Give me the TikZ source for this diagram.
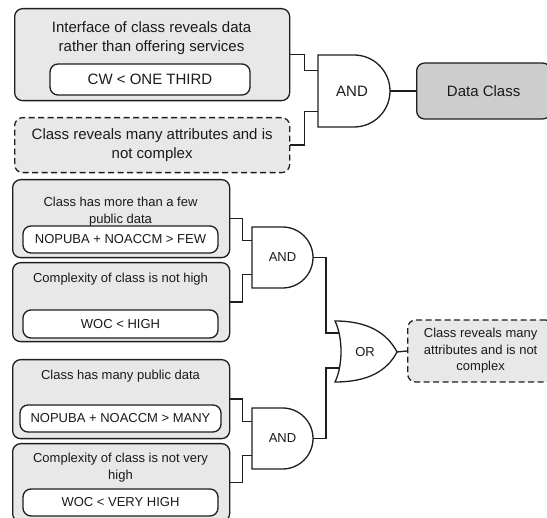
\documentclass[tikz,border=0pt]{standalone}
\usepackage{fontspec}
\setmainfont{Liberation Sans}
\definecolor{linec}{HTML}{1E1E1E}
\definecolor{textc}{HTML}{1A1A1A}
\definecolor{boxgray}{HTML}{E8E8E8}
\definecolor{darkgray}{HTML}{CDCDCD}
\begin{document}
\begin{tikzpicture}[x=1pt,y=-1pt,
  outer/.style={draw=linec, fill=boxgray, rounded corners=8pt, line width=1.3pt, anchor=north west, inner sep=0pt},
  inner/.style={draw=linec, fill=white, rounded corners=8pt, line width=1.3pt, inner sep=0pt, text=textc},
  dashbox/.style={outer, dash pattern=on 6pt off 3.5pt, align=center, text=textc},
  big/.style={font=\fontsize{15}{19.5}\selectfont},
  small/.style={font=\fontsize{13}{16.5}\selectfont},
  txt/.style={align=center, text=textc, inner sep=0pt},
  gate/.style={draw=linec, fill=white, line width=1.3pt},
  wire/.style={draw=linec, line width=1.3pt},
  pics/andgate/.style={code={
    \draw[gate] (0,-#1) -- (#1,-#1)
      .. controls (1.5523*#1,-#1) and (2*#1,-0.5523*#1) .. (2*#1,0)
      .. controls (2*#1,0.5523*#1) and (1.5523*#1,#1) .. (#1,#1)
      -- (0,#1) -- cycle;
    \coordinate (-a) at (0,-0.56*#1);
    \coordinate (-b) at (0,0.56*#1);
    \coordinate (-o) at (2*#1,0);
  }}
]
\useasboundingbox (0,0) rectangle (547,518);
\clip (0,0) rectangle (547,518);

% ---- Data Class branch ----
\node[outer, minimum width=275pt, minimum height=92pt] (b1) at (14,8) {};
\node[txt, big] (t1) at (151.5,38) {Interface of class reveals data\\rather than offering services};
\node[inner, big, minimum width=200pt, minimum height=31pt] (c1) at (150,79.5) {CW < ONE THIRD};

\node[dashbox, big, minimum width=275pt, minimum height=55pt] (b2) at (14,117) {Class reveals many attributes and is\\not complex};

\pic (g1) at (318,91) {andgate=36};
\node[txt, big] (g1l) at (352,91) {AND};

\node[outer, fill=darkgray, anchor=west, minimum width=134pt, minimum height=56pt, big, text=textc] (dc) at (416,91) {Data Class};

\draw[wire] (b1.east) -- ++(14,0) |- (g1-a);
\draw[wire] (b2.east) -- ++(14,0) |- (g1-b);
\draw[wire] (g1-o) -- (dc.west);

% ---- "reveals many attributes and is not complex" branch ----
\node[outer, minimum width=217pt, minimum height=78pt] (b3) at (12,179) {};
\node[txt, small] (t3) at (120.5,211.5) {Class has more than a few\\public data};
\node[inner, small, minimum width=195pt, minimum height=27pt] (c3) at (120.5,239.5) {NOPUBA + NOACCM > FEW};

\node[outer, minimum width=217pt, minimum height=79pt] (b4) at (12,262) {};
\node[txt, small] (t4) at (120.5,279) {Complexity of class is not high};
\node[inner, small, minimum width=195pt, minimum height=28pt] (c4) at (120.5,324) {WOC < HIGH};

\node[outer, minimum width=217pt, minimum height=79pt] (b5) at (12,359) {};
\node[txt, small] (t5) at (120.5,376) {Class has many public data};
\node[inner, small, minimum width=201pt, minimum height=27pt] (c5) at (120.5,418.5) {NOPUBA + NOACCM > MANY};

\node[outer, minimum width=217pt, minimum height=78pt] (b6) at (12,443) {};
\node[txt, small] (t6) at (120.5,467.5) {Complexity of class is not very\\high};
\node[inner, small, minimum width=195pt, minimum height=27pt] (c6) at (120.5,502.5) {WOC < VERY HIGH};

\pic (g2) at (252,257.5) {andgate=30.5};
\node[txt, small] (g2l) at (282.5,257.5) {AND};
\pic (g3) at (252,438.5) {andgate=30.5};
\node[txt, small] (g3l) at (282.5,438.5) {AND};

% OR gate
\draw[gate] (335,321) .. controls (368,321) and (387,333) .. (397,352)
  .. controls (387,371) and (368,382) .. (335,382)
  .. controls (343,366) and (343,337) .. (335,321) -- cycle;
\coordinate (or-a) at (338.5,333);
\coordinate (or-b) at (338.5,368);
\coordinate (or-o) at (397,352);
\node[txt, small] (orl) at (365,352) {OR};

\node[dashbox, small, anchor=west, minimum width=146pt, minimum height=62pt] (res) at (407,351) {Class reveals many\\attributes and is not\\complex};

\draw[wire] (b3.east) -- ++(12,0) |- (g2-a);
\draw[wire] (b4.east) -- ++(12,0) |- (g2-b);
\draw[wire] (b5.east) -- ++(12,0) |- (g3-a);
\draw[wire] (b6.east) -- ++(12,0) |- (g3-b);
\draw[wire] (g2-o) -- ++(13,0) |- (or-a);
\draw[wire] (g3-o) -- ++(13,0) |- (or-b);
\draw[wire] (or-o) -- (res.west);
\end{tikzpicture}
\end{document}
